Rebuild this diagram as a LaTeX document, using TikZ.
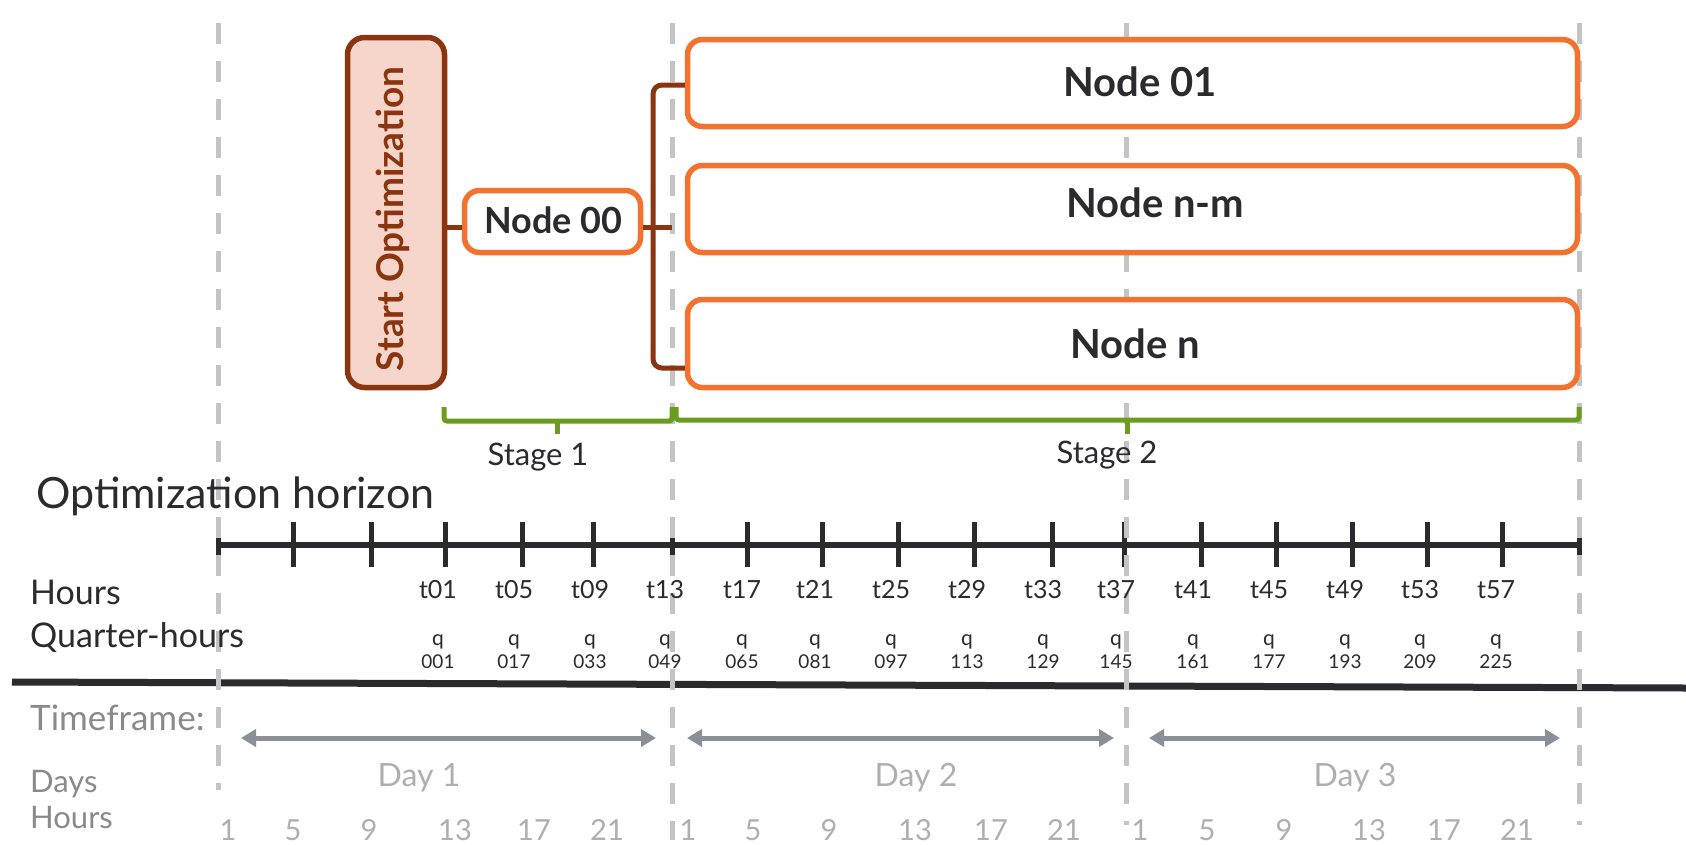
\documentclass[tikz,border=0pt]{standalone}
\usepackage{fontspec}
\setmainfont{Lato}
\usetikzlibrary{arrows.meta,calc}
\definecolor{orangeC}{HTML}{F47230}
\definecolor{brownC}{HTML}{8B3410}
\definecolor{startFill}{HTML}{F6D5CA}
\definecolor{greenC}{HTML}{6A9C1E}
\definecolor{darkC}{HTML}{2B2B2F}
\definecolor{dashC}{HTML}{C4C4C4}
\definecolor{arrowC}{HTML}{8B9098}
\definecolor{grayT}{HTML}{8A8A8A}
\definecolor{lightT}{HTML}{AFAFAF}
\begin{document}
\begin{tikzpicture}[x=1pt,y=-1pt,
  vdash/.style={draw=dashC,line width=5pt,dash pattern=on 21pt off 17pt},
  nbox/.style={draw=orangeC,line width=5.5pt,rounded corners=15pt,fill=white,inner sep=0pt},
  startbox/.style={draw=brownC,line width=5.5pt,rounded corners=17pt,fill=startFill,inner sep=0pt},
  conn/.style={draw=brownC,line width=5pt},
  brace/.style={draw=greenC,line width=5pt,rounded corners=3pt},
  axisline/.style={draw=darkC,line width=6.5pt},
  tickmark/.style={draw=darkC,line width=5pt},
  sepline/.style={draw=darkC,line width=7pt},
  dayarrow/.style={draw=arrowC,line width=5pt,{Triangle[length=15pt,width=17pt]}-{Triangle[length=15pt,width=17pt]}},
  lbl/.style={inner sep=0pt,anchor=base west,text=darkC},
  clbl/.style={inner sep=0pt,anchor=base,text=darkC},
]
\useasboundingbox (0,0) rectangle (1686,844);
\fill[white] (0,0) rectangle (1686,844);

% axis and separator line
\coordinate (a0) at (218,545);
\coordinate (a1) at (1579,545);
\draw[axisline] (a0) -- (a1);
\foreach \x in {218,293,371,445,522,593,672,747,822,898,974,1052,1124,1201,1276,1352,1427,1502,1579}
  \draw[tickmark] (\x,522) -- (\x,567);
\coordinate (hl0) at (12,682);
\coordinate (hl1) at (1686,688);
\draw[sepline] (hl0) -- (hl1);

% dashed vertical guides
\foreach \x/\e in {218/790,672/840,1126/825,1579/825}
  \draw[vdash] (\x,23) -- (\x,\e);

% boxes
\node[startbox,minimum width=97pt,minimum height=350pt] (start) at (396,212.5) {};
\node[inner sep=0pt,anchor=base,rotate=90,text=brownC,font=\bfseries\fontsize{37}{44}\selectfont] (startT) at (403,219) {Start Optimization};
\node[nbox,minimum width=176pt,minimum height=62pt] (n00) at (552.5,221.5) {};
\node[clbl,font=\bfseries\fontsize{36}{43}\selectfont] (n00T) at (553.5,233) {Node 00};
\node[nbox,minimum width=890pt,minimum height=87pt] (n01) at (1132.5,83) {};
\node[clbl,font=\bfseries\fontsize{40}{48}\selectfont] (n01T) at (1140,96) {Node 01};
\node[nbox,minimum width=890pt,minimum height=87pt] (nnm) at (1132.5,209) {};
\node[clbl,font=\bfseries\fontsize{40}{48}\selectfont] (nnmT) at (1155,217) {Node n-m};
\node[nbox,minimum width=890pt,minimum height=88pt] (nn) at (1132.5,343.5) {};
\node[clbl,font=\bfseries\fontsize{40}{48}\selectfont] (nnT) at (1135,358) {Node n};

% connectors
\coordinate (lv) at (0,227);
\coordinate (bt) at (653,85);
\coordinate (bb) at (653,368);
\coordinate (bm) at (672,227);
\draw[conn] (start.east |- lv) -- (n00.west |- lv);
\draw[conn,rounded corners=9pt] (n01.west |- bt) -| (bb) -- (nn.west |- bb);
\draw[conn] (n00.east |- lv) -- (bm);

% stage braces
\coordinate (s1l) at (444,407);
\coordinate (s1m) at (557,421);
\coordinate (s1r) at (672,407);
\draw[brace] (s1l) |- (s1m) -| (s1r);
\draw[brace] (s1m) -- ++(0,13);
\coordinate (s2l) at (676,407);
\coordinate (s2m) at (1127,420);
\coordinate (s2r) at (1579,407);
\draw[brace] (s2l) |- (s2m) -| (s2r);
\draw[brace] (s2m) -- ++(0,14);
\node[clbl,font=\fontsize{31}{37}\selectfont] (st1) at (538,465) {Stage 1};
\node[clbl,font=\fontsize{31}{37}\selectfont] (st2) at (1107,463) {Stage 2};

% left labels
\node[lbl,font=\fontsize{43}{51}\selectfont] (hor) at (36,508) {Optimization horizon};
\node[lbl,font=\fontsize{34}{40}\selectfont] (hrs) at (30,604) {Hours};
\node[lbl,font=\fontsize{34}{40}\selectfont] (qh) at (30,647) {Quarter-hours};

% hour and quarter-hour labels
\foreach \x/\t/\q in {438/01/001,514/05/017,590/09/033,665/13/049,742/17/065,815/21/081,891/25/097,967/29/113,1043/33/129,1116/37/145,1193/41/161,1269/45/177,1345/49/193,1420/53/209,1496/57/225}{
  \node[clbl,font=\fontsize{25}{29}\selectfont] at (\x,598) {t\t};
  \node[clbl,font=\fontsize{21}{24}\selectfont] at (\x,645) {q};
  \node[clbl,font=\fontsize{19}{22}\selectfont] at (\x,668) {\q};
}

% timeframe
\node[lbl,text=grayT,font=\fontsize{35}{42}\selectfont] (tf) at (30,730) {Timeframe:};
\node[lbl,text=grayT,font=\fontsize{31}{37}\selectfont] (dys) at (30,792) {Days};
\node[lbl,text=grayT,font=\fontsize{31}{37}\selectfont] (hrs2) at (30,828) {Hours};
\coordinate (d1a) at (241,738); \coordinate (d1b) at (656,738);
\coordinate (d2a) at (687,738); \coordinate (d2b) at (1114,738);
\coordinate (d3a) at (1149,738); \coordinate (d3b) at (1560,738);
\draw[dayarrow] (d1a) -- (d1b);
\draw[dayarrow] (d2a) -- (d2b);
\draw[dayarrow] (d3a) -- (d3b);
\node[clbl,text=lightT,font=\fontsize{32}{38}\selectfont] (day1) at (419,786) {Day 1};
\node[clbl,text=lightT,font=\fontsize{32}{38}\selectfont] (day2) at (916,786) {Day 2};
\node[clbl,text=lightT,font=\fontsize{32}{38}\selectfont] (day3) at (1355,786) {Day 3};
\foreach \x/\h in {228/1,293/5,369/9,455/13,534/17,607/21,688/1,753/5,829/9,915/13,991/17,1064/21,1140/1,1207/5,1284/9,1369/13,1444/17,1517/21}
  \node[clbl,text=lightT,font=\fontsize{29}{35}\selectfont] at (\x,840) {\h};
\end{tikzpicture}
\end{document}
